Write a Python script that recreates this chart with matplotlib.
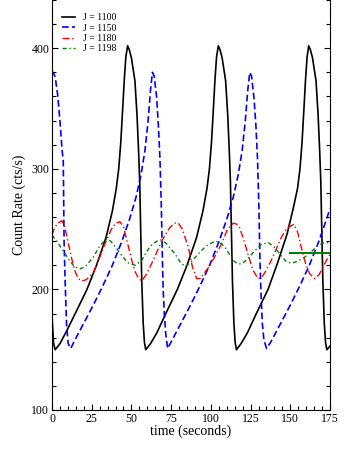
import matplotlib
matplotlib.use("Agg")
import matplotlib.pyplot as plt
from matplotlib.ticker import MultipleLocator

plt.rcParams['font.family'] = ['Liberation Serif', 'DejaVu Serif']

# J = 1100 (solid black)
t_1100 = [0, 1, 2, 5, 9, 15, 22, 28, 34, 38, 40.5, 42, 43.3, 44.5, 45.5, 46.5, 47.6, 48.6, 50, 52.2, 53.5, 54.5, 55.2, 55.8, 56.5, 57.4, 58.2, 59,
          62, 66, 72, 78.9, 85, 91, 95, 97.6, 99.1, 100.4, 101.6, 102.6, 103.6, 104.7, 105.7, 107.1, 109.3, 110.6, 111.6, 112.3, 112.9, 113.6, 114.5, 115.3, 116.1,
          119, 123, 129, 136, 142, 148, 152, 154.6, 156.1, 157.4, 158.6, 159.6, 160.6, 161.6, 162.6, 164, 166.2, 167.5, 168.5, 169.2, 169.8, 170.5, 171.4, 172.2, 173, 175]
y_1100 = [178, 155, 150, 155, 165, 181, 200, 220, 243, 265, 284, 300, 322, 350, 374, 393, 402, 399, 392, 373, 345, 315, 290, 251, 207, 172, 156, 150,
          155, 164, 181, 200, 220, 243, 265, 284, 300, 322, 350, 374, 393, 402, 399, 392, 373, 345, 315, 290, 251, 207, 172, 156, 150,
          155, 164, 181, 200, 222, 246, 268, 284, 300, 322, 350, 374, 393, 402, 399, 392, 373, 345, 315, 290, 251, 207, 172, 156, 150, 153]

# J = 1150 (dashed blue)
t_1150 = [0, 0.8, 2, 3.5, 5, 6.2, 7.1, 7.6, 8.3, 9.2, 10.2, 11.8, 14, 20, 26, 32, 38, 44, 49, 53, 56, 58.5, 60.5, 62, 63.2,
          64.3, 65.9, 67, 68, 68.8, 69.5, 70, 70.7, 71.6, 72.8, 75.2, 81.2, 87.2, 93.2, 99.2, 105.2, 110.2, 114.2, 117.2, 119.7, 121.7, 123.2, 124.5,
          125.6, 127.2, 128.4, 129.4, 130.2, 130.9, 131.6, 132.4, 133.4, 135.1, 138, 144, 150, 156, 162, 168, 173, 175]
y_1150 = [379, 380, 376, 362, 340, 318, 306, 240, 205, 170, 155, 151, 157, 172, 187, 203, 220, 240, 259, 277, 295, 315, 340, 365, 380,
          377, 359, 335, 307, 270, 225, 199, 180, 163, 151, 157, 172, 187, 203, 220, 240, 259, 277, 295, 315, 340, 365, 380,
          377, 358, 335, 307, 270, 225, 195, 172, 158, 151, 157, 172, 187, 203, 220, 240, 259, 267]

# J = 1180 (dash-dot red)
t_1180 = [0, 1, 3, 6.1, 8, 10.3, 12.5, 14.5, 16.5, 18.7, 21.5, 24, 26, 29.5, 33.4, 37, 40, 42.8, 45, 48, 50, 52.2, 54.5, 56.5,
          59.6, 64, 69, 74, 77, 79.5, 82, 85.8, 88.5, 91.1, 93.5, 95, 98.4, 102, 106.8, 110.5, 114.1, 116.5, 118.1, 120.5, 123.4,
          126.5, 129.7, 132, 134, 138, 144.3, 148, 152.3, 154.5, 156.9, 159.5, 162.2, 165.3, 168, 170, 172.7, 175]
y_1180 = [245, 249, 254, 257, 252, 238, 225, 215, 209, 207, 208, 211, 214, 225, 238, 249, 255, 256, 252, 236, 225, 215, 209, 207,
          213, 225, 240, 251, 255, 255, 250, 235, 218, 209, 209, 212, 218, 226, 238, 250, 255, 254, 251, 242, 229,
          216, 209, 210, 214, 224, 243, 251, 254, 248, 235, 222, 213, 209, 212, 217, 224, 229]

# J = 1198 (dash-dot green)
t_1198 = [0, 3, 7.1, 11, 14, 17.6, 21, 26, 30, 34.4, 37, 40.7, 44.5, 48, 52.2, 56.5, 58.5, 62, 66, 68.5, 72, 77.4, 80.5, 83.7,
          87, 92.1, 97, 102.6, 105.5, 108.9, 114.1, 116.5, 119.2, 123, 127.6, 131.5, 136, 140, 144.3, 147.5, 150.6, 154, 159,
          163, 167.4, 171, 175]
y_1198 = [245, 240, 232, 224, 219, 217, 219, 226.7, 236, 242, 240, 234, 227, 222, 220, 224, 229, 236, 240, 241, 238, 229.5, 223, 219,
          222, 229.5, 236, 240, 239, 235, 224, 221.5, 221, 225, 232, 237, 239, 235, 228, 223, 221.7, 223, 226.7,
          231, 236.4, 238.5, 239]

# flat green segment at the end
t_flat = [150, 175]
y_flat = [230.5, 230.5]

fig = plt.figure(figsize=(3.58, 4.63), dpi=100)
ax = fig.add_axes([52 / 358, 53 / 463, 278 / 358, 410 / 463])

ax.plot(t_1100, y_1100, color='black', lw=1.2, label='J = 1100')
ax.plot(t_1150, y_1150, color='blue', lw=1.2, ls=(0, (4, 2)), label='J = 1150')
ax.plot(t_1180, y_1180, color='red', lw=1.0, ls=(0, (5, 2, 1, 2)), label='J = 1180')
ax.plot(t_1198, y_1198, color='green', lw=1.0, ls=(0, (3, 2, 1, 2)), label='J = 1198')
ax.plot(t_flat, y_flat, color='green', lw=1.4)

ax.set_xlim(0, 175)
ax.set_ylim(100, 440)
ax.xaxis.set_major_locator(MultipleLocator(25))
ax.xaxis.set_minor_locator(MultipleLocator(5))
ax.yaxis.set_major_locator(MultipleLocator(100))
ax.yaxis.set_minor_locator(MultipleLocator(20))
ax.tick_params(which='both', direction='in', right=True, top=False, labelsize=8.5, pad=2)
ax.tick_params(which='major', length=4.5, width=0.8)
ax.tick_params(which='minor', length=3, width=0.8)
ax.spines['top'].set_visible(False)

ax.set_xlabel('time (seconds)', fontsize=10, labelpad=0)
ax.set_ylabel('Count Rate (cts/s)', fontsize=10, labelpad=4)

ax.legend(loc='upper left', bbox_to_anchor=(0.035, 0.968), frameon=False, fontsize=7,
          handlelength=1.4, handletextpad=0.8, labelspacing=0.15, borderpad=0, borderaxespad=0)

fig.savefig('out.png', dpi=100)
